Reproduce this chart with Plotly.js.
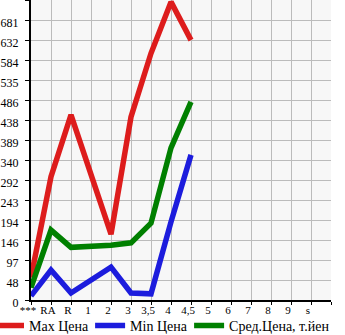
<!DOCTYPE html>
<html><head><meta charset="utf-8">
<script src="https://cdn.plot.ly/plotly-3.0.1.min.js"></script>
<style>html,body{margin:0;padding:0;background:#fff}#c{width:345px;height:335px}</style>
</head><body><div id="c"></div>
<script>
const categories = ["***","RA","R","1","2","3","3,5","4","4,5","5","6","7","8","9","s"];
const maxPrice = [55, 300, 450, null, 160, 445, 600, 725, 632, null, null, null, null, null, null];
const minPrice = [10, 73, 17, null, 80, 17, 15, 190, 353, null, null, null, null, null, null];
const avgPrice = [30, 170, 128, null, 133, 139, 187, 370, 482, null, null, null, null, null, null];
const yTickText = ["0","48","97","146","194","243","292","340","389","438","486","535","584","632","681",""];
const yStep = 48.64;
const seriesNames = ["Max Цена","Min Цена","Сред.Цена, т.йен"];
const seriesColors = ["#dd1c1c","#1c1cdd","#008000"];
const legendIds = ["legend","legend2","legend3"];
const legendX = [-0.14, 0.197, 0.527];

const idx = categories.map((c,i)=>i);
const yTickVals = yTickText.map((t,i)=>i*yStep);
const seriesData = [maxPrice, minPrice, avgPrice];
const traces = seriesData.map((d,k)=>({
  x: idx, y: d, type:'scatter', mode:'lines', name: seriesNames[k],
  connectgaps: true, legend: legendIds[k],
  line:{color: seriesColors[k], width:5.5}
}));
const layout = {
  width:345, height:335,
  margin:{l:31, r:14, t:0, b:35, autoexpand:false},
  paper_bgcolor:'#ffffff', plot_bgcolor:'#f7f7f7',
  font:{family:'"Liberation Serif", "DejaVu Serif", serif', size:12, color:'#000'},
  showlegend:true,
  xaxis:{range:[0, categories.length], tickmode:'array',
    tickvals: idx.concat([categories.length]), ticktext: categories.concat([""]),
    showgrid:true, gridcolor:'#bbbbbb', gridwidth:1,
    showline:true, linecolor:'#000', linewidth:2,
    ticks:'outside', ticklen:3, tickcolor:'#000', zeroline:false, fixedrange:true,
    tickfont:{size:11}, ticklabelshift:-3, ticklabelstandoff:-4},
  yaxis:{range:[0, (yTickText.length-1)*yStep], tickmode:'array',
    tickvals: yTickVals, ticktext: yTickText,
    showgrid:true, gridcolor:'#bbbbbb', gridwidth:1,
    showline:true, linecolor:'#000', linewidth:2,
    ticks:'outside', ticklen:4, tickcolor:'#000', zeroline:false, fixedrange:true,
    ticklabelshift:3, ticklabelstandoff:4}
};
legendIds.forEach((id,k)=>{
  layout[id] = {orientation:'h', x:legendX[k], xanchor:'left', y:-0.086, yanchor:'middle',
    font:{size:14}, itemwidth:30, bgcolor:'rgba(0,0,0,0)', borderwidth:0};
});
Plotly.newPlot('c', traces, layout, {staticPlot:true});
</script></body></html>
